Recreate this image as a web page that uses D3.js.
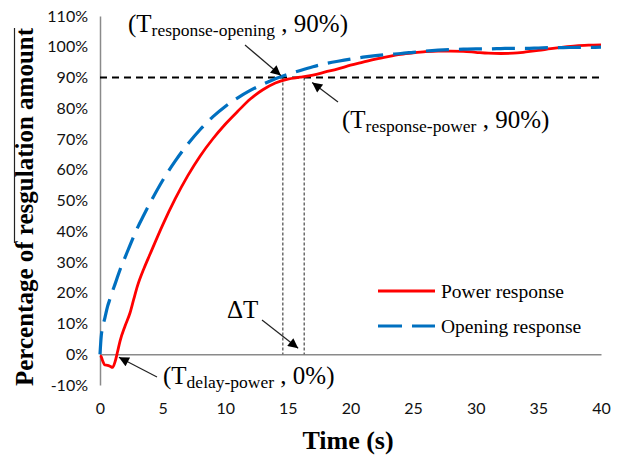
<!DOCTYPE html>
<html>
<head>
<meta charset="utf-8">
<script src="https://cdn.jsdelivr.net/npm/d3@7"></script>
<style>
  html, body { margin: 0; padding: 0; background: #fff; }
  svg { display: block; }
</style>
</head>
<body>
<svg id="chart" width="625" height="460"></svg>
<script>
// ---- data ----
const time = [0,0.1,0.2,0.4,0.6,0.8,1.0,1.2,1.4,1.6,2.0,2.4,2.7,3.0,3.5,4,5,6,7,8,9,10,11,12,13,14,15,16,17,18,19,20,21,22,23,24,25,26,27,28,29,30,31,32,33,34,35,36,37,38,39,40];
const powerResponse = [-0.5,-0.8,-2.0,-3.5,-3.6,-3.9,-4.3,-2.5,0.8,4.3,9.2,13.5,18,22.3,27.8,32.6,42,50.5,58,64.5,70,74.8,79,83,86,88.2,89.5,90.1,90.8,91.8,92.8,94,95,96,96.8,97.5,98,98.4,98.6,98.6,98.5,98.2,97.9,97.8,97.9,98.3,98.8,99.4,99.9,100.3,100.5,100.6];
const openingResponse = [0,6,8.5,12,15.5,18,20.5,22.8,25.2,27.5,31.5,35.5,38.4,41.2,45.3,49.2,56.5,62.8,68.3,73.1,77.2,80.6,83.4,85.8,87.8,89.6,91,92.3,93.5,94.5,95.3,96,96.6,97.1,97.5,97.8,98.2,98.6,98.9,99.1,99.2,99.3,99.3,99.4,99.5,99.5,99.6,99.7,99.7,99.8,99.8,99.9];
const seriesNames = ["Power response", "Opening response"];
const xTicks = [0,5,10,15,20,25,30,35,40];
const yTicks = [-10,0,10,20,30,40,50,60,70,80,90,100,110];
const threshold = 90;
const tResponseOpening = 14.6;
const tResponsePower = 16.3;
const tDelayPower = 1.35;

// ---- chart ----
const svg = d3.select("#chart");
const x = d3.scaleLinear().domain([0, 40]).range([100, 601]);
const y = d3.scaleLinear().domain([-10, 110]).range([385, 16]);
const axisColor = "#8a8a8a";
const tickFont = "Lato, 'Open Sans', sans-serif";
const serif = "'Liberation Serif', 'Times New Roman', serif";

// y axis
const gy = svg.append("g").attr("transform", `translate(${x(0)},0)`)
  .call(d3.axisLeft(y).tickValues(yTicks).tickSize(0).tickPadding(12).tickFormat(d => d + "%"));
gy.select(".domain").attr("stroke", axisColor).attr("stroke-width", 1.5);
gy.selectAll("text").attr("font-family", tickFont).attr("font-size", 16).attr("fill", "#111");

// x axis at y=0
const gx = svg.append("g").attr("transform", `translate(0,${y(0)})`)
  .call(d3.axisBottom(x).tickValues(xTicks).tickSize(0).tickPadding(48.5));
gx.select(".domain").attr("stroke", axisColor).attr("stroke-width", 1.5);
gx.selectAll("text").attr("font-family", tickFont).attr("font-size", 16).attr("fill", "#111");

// 90% threshold line
svg.append("line")
  .attr("x1", x(0)).attr("x2", x(40))
  .attr("y1", y(threshold)).attr("y2", y(threshold))
  .attr("stroke", "#000").attr("stroke-width", 2).attr("stroke-dasharray", "7,5");

// vertical dotted lines
[tResponseOpening, tResponsePower].forEach(t => {
  svg.append("line")
    .attr("x1", x(t)).attr("x2", x(t))
    .attr("y1", y(threshold)).attr("y2", y(0))
    .attr("stroke", "#222").attr("stroke-width", 1).attr("stroke-dasharray", "3,2");
});

// curves
const line = d3.line().curve(d3.curveMonotoneX);
const powerPts = time.map((t, i) => [x(t), y(powerResponse[i])]);
const openPts = time.map((t, i) => [x(t), y(openingResponse[i])]);

svg.append("path").attr("d", line(powerPts))
  .attr("fill", "none").attr("stroke", "#ff0000").attr("stroke-width", 2.8)
  .attr("stroke-linejoin", "round");
svg.append("path").attr("d", line(openPts))
  .attr("fill", "none").attr("stroke", "#0070c0").attr("stroke-width", 3.2)
  .attr("stroke-dasharray", "23,10");

// legend
const leg = svg.append("g");
const legItems = [
  {name: seriesNames[0], color: "#ff0000", dash: null, w: 2.8, yy: 291},
  {name: seriesNames[1], color: "#0070c0", dash: "24,10", w: 3.2, yy: 326}
];
legItems.forEach(d => {
  leg.append("line").attr("x1", 378).attr("x2", 435).attr("y1", d.yy).attr("y2", d.yy)
    .attr("stroke", d.color).attr("stroke-width", d.w)
    .attr("stroke-dasharray", d.dash);
  leg.append("text").attr("x", 441).attr("y", d.yy + 6.5)
    .attr("font-family", serif).attr("font-size", 19.5).attr("fill", "#000")
    .text(d.name);
});

// arrow marker
svg.append("defs").append("marker")
  .attr("id", "arr").attr("viewBox", "0 0 10 10")
  .attr("refX", 10).attr("refY", 5)
  .attr("markerWidth", 12).attr("markerHeight", 10)
  .attr("markerUnits", "userSpaceOnUse")
  .attr("orient", "auto")
  .append("path").attr("d", "M0,0 L10,5 L0,10 Z").attr("fill", "#000");

function arrow(x1, y1, x2, y2) {
  svg.append("line").attr("x1", x1).attr("y1", y1).attr("x2", x2).attr("y2", y2)
    .attr("stroke", "#222").attr("stroke-width", 1.2).attr("marker-end", "url(#arr)");
}

function label(xx, yy, sub, tail) {
  const t = svg.append("text").attr("x", xx).attr("y", yy)
    .attr("font-family", serif).attr("font-size", 25).attr("fill", "#000");
  t.append("tspan").text("(T");
  t.append("tspan").attr("font-size", 17.5).attr("dy", 4).text(sub);
  t.append("tspan").attr("dy", -4).text(" " + tail);
}

label(128, 32, "response-opening", ", 90%)");
arrow(245, 45, x(tResponseOpening) - 2, y(threshold) - 2);

label(342, 128, "response-power", ", 90%)");
arrow(338, 102, x(tResponsePower) + 8, y(threshold) + 5);

svg.append("text").attr("x", 227).attr("y", 318)
  .attr("font-family", serif).attr("font-size", 25).attr("fill", "#000").text("ΔT");
arrow(262, 320, x(tResponsePower) - 6, y(0) - 6);

label(163, 384, "delay-power", ", 0%)");
arrow(157, 377, x(tDelayPower) + 2, y(0) + 3);

// axis titles
svg.append("text")
  .attr("x", 348).attr("y", 449).attr("text-anchor", "middle")
  .attr("font-family", serif).attr("font-weight", "bold").attr("font-size", 26).attr("fill", "#000")
  .text("Time (s)");

svg.append("text")
  .attr("transform", "translate(33,207) rotate(-90)")
  .attr("text-anchor", "middle")
  .attr("font-family", serif).attr("font-weight", "bold").attr("font-size", 25).attr("fill", "#000")
  .text("Percentage of resgulation amount");
svg.append("line").attr("x1", 14.5).attr("x2", 14.5).attr("y1", 28).attr("y2", 243)
  .attr("stroke", "#222").attr("stroke-width", 1.2);
</script>
</body>
</html>
